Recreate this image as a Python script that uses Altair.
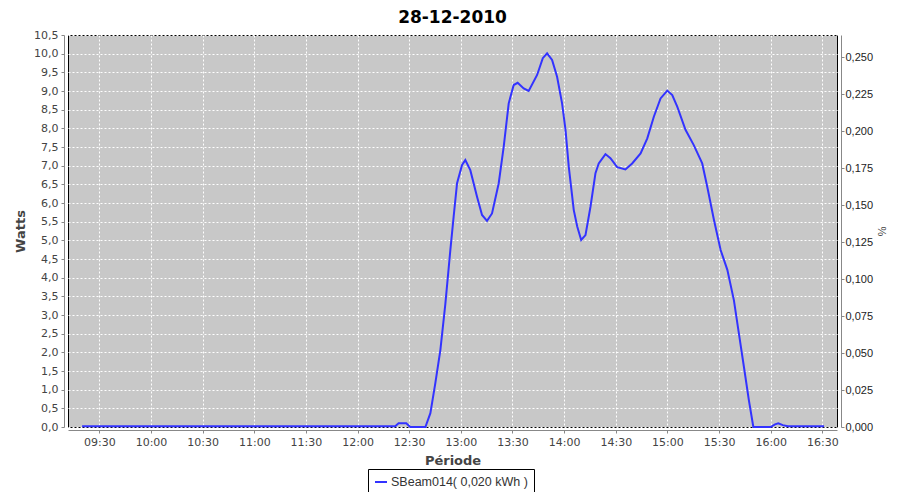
import altair as alt
import pandas as pd

chart_title = "28-12-2010"
series_name = "SBeam014( 0,020 kWh )"
y_title = "Watts"
x_title = "Période"
y2_title = "%"

times = [
    "09:20:00", "12:21:54", "12:23:50", "12:28:18", "12:30:36", "12:39:24",
    "12:42:18", "12:45:12", "12:48:06", "12:51:00", "12:53:54", "12:55:48",
    "12:57:48", "13:00:42", "13:02:36", "13:05:30", "13:09:24", "13:12:18",
    "13:15:12", "13:18:06", "13:22:00", "13:24:54", "13:27:48", "13:30:42",
    "13:33:00", "13:36:30", "13:39:24", "13:44:18", "13:47:36", "13:50:06",
    "13:53:00", "13:55:54", "13:58:48", "14:00:48", "14:02:42", "14:05:36",
    "14:07:36", "14:09:54", "14:12:24", "14:15:18", "14:18:12", "14:20:06",
    "14:24:00", "14:26:54", "14:30:48", "14:35:36", "14:39:30", "14:44:24",
    "14:48:18", "14:52:06", "14:56:00", "14:59:54", "15:02:48", "15:05:42",
    "15:10:30", "15:15:18", "15:20:12", "15:23:06", "15:27:00", "15:30:54",
    "15:34:48", "15:38:36", "15:41:30", "15:44:24", "15:47:18", "15:49:54",
    "15:59:54", "16:02:30", "16:04:24", "16:07:00", "16:10:00", "16:12:36",
    "16:31:00",
]
watts = [
    0.02, 0.02, 0.10, 0.10, 0.0, 0.0,
    0.37, 1.18, 2.06, 3.30, 4.74, 5.63,
    6.53, 7.02, 7.15, 6.88, 6.17, 5.68,
    5.52, 5.72, 6.53, 7.51, 8.67, 9.16,
    9.22, 9.07, 9.00, 9.43, 9.88, 10.01,
    9.83, 9.38, 8.67, 7.96, 6.97, 5.81,
    5.37, 5.01, 5.14, 5.90, 6.80, 7.06,
    7.31, 7.20, 6.96, 6.90, 7.06, 7.33,
    7.73, 8.31, 8.80, 9.01, 8.89, 8.58,
    7.96, 7.55, 7.06, 6.44, 5.55, 4.74,
    4.21, 3.40, 2.51, 1.62, 0.72, 0.0,
    0.0, 0.07, 0.10, 0.05, 0.02, 0.02,
    0.02,
]

x_ticks = ["09:30", "10:00", "10:30", "11:00", "11:30", "12:00", "12:30",
           "13:00", "13:30", "14:00", "14:30", "15:00", "15:30", "16:00", "16:30"]
x_domain = ["09:11:48", "16:38:30"]
y_ticks = [0.0, 0.5, 1.0, 1.5, 2.0, 2.5, 3.0, 3.5, 4.0, 4.5, 5.0, 5.5, 6.0,
           6.5, 7.0, 7.5, 8.0, 8.5, 9.0, 9.5, 10.0, 10.5]
y_domain = [0, 10.5]
pct_ticks = [0.0, 0.025, 0.05, 0.075, 0.1, 0.125, 0.15, 0.175, 0.2, 0.225, 0.25]
pct_domain = [0, 0.2652]


def to_min(s):
    parts = [float(p) for p in s.split(":")]
    while len(parts) < 3:
        parts.append(0.0)
    return parts[0] * 60 + parts[1] + parts[2] / 60


df = pd.DataFrame({"t": [to_min(s) for s in times], "W": watts, "series": series_name})
df_pct = pd.DataFrame({"t": [to_min(x_domain[0]), to_min(x_domain[1])], "pct": [0.0, 0.1]})

x_vals = [to_min(s) for s in x_ticks]
x_dom = [to_min(s) for s in x_domain]

time_label = ("(floor(datum.value/60)<10?'0':'') + floor(datum.value/60) + ':' + "
              "(round(datum.value%60)<10?'0':'') + round(datum.value%60)")

x_enc = alt.X(
    "t:Q",
    scale=alt.Scale(domain=x_dom, nice=False, zero=False),
    axis=alt.Axis(
        values=x_vals, labelExpr=time_label, title=x_title,
        grid=True, gridColor="white", gridDash=[2, 2], gridWidth=1, gridOpacity=1,
        domainColor="#888888", tickColor="#888888", tickSize=3, offset=3,
        labelFont="DejaVu Sans", labelFontSize=11, labelColor="#444444", labelPadding=3,
        titleFont="DejaVu Sans", titleFontSize=13, titleFontWeight="bold",
        titleColor="#444444", titlePadding=7,
    ),
)

line = alt.Chart(df).mark_line(strokeWidth=2, interpolate="linear").encode(
    x=x_enc,
    y=alt.Y(
        "W:Q",
        scale=alt.Scale(domain=y_domain, nice=False),
        axis=alt.Axis(
            values=y_ticks, labelExpr="replace(format(datum.value, '.1f'), '.', ',')",
            title=y_title, grid=True, gridColor="white", gridDash=[2, 2], gridWidth=1,
            gridOpacity=1, domainColor="#888888", tickColor="#888888", tickSize=3,
            offset=4, labelFont="DejaVu Sans", labelFontSize=11, labelColor="#444444",
            labelPadding=3, titleFont="DejaVu Sans", titleFontSize=13,
            titleFontWeight="bold", titleColor="#444444", titlePadding=6,
        ),
    ),
    color=alt.Color(
        "series:N",
        scale=alt.Scale(range=["#3333ff"]),
        legend=alt.Legend(
            title=None, orient="none", legendX=300, legendY=434,
            symbolType="stroke", symbolSize=144, symbolStrokeWidth=2,
            labelFont="Liberation Sans", labelFontSize=12.5, labelColor="#333333",
            labelLimit=400, labelOffset=3, padding=6, strokeColor="black",
            fillColor="white", cornerRadius=0,
        ),
    ),
)

right = alt.Chart(df_pct).mark_point(opacity=0).encode(
    x=alt.X("t:Q", scale=alt.Scale(domain=x_dom, nice=False, zero=False)),
    y=alt.Y(
        "pct:Q",
        scale=alt.Scale(domain=pct_domain, nice=False),
        axis=alt.Axis(
            orient="right", values=pct_ticks,
            labelExpr="replace(format(datum.value, '.3f'), '.', ',')",
            title=y2_title, grid=False, domainColor="#888888", tickColor="#888888",
            tickSize=3, offset=4, labelFont="Liberation Sans", labelFontSize=11,
            labelColor="#222222", labelPadding=1, titleFont="Liberation Sans",
            titleFontSize=11, titleFontWeight="normal", titleColor="#444444",
            titlePadding=3,
        ),
    ),
)

chart = (
    alt.layer(line, right)
    .resolve_scale(y="independent")
    .properties(
        width=769, height=392,
        autosize=alt.AutoSizeParams(type="none"),
        padding={"left": 60, "top": 27, "right": 55, "bottom": 65},
        background="white",
        title=alt.TitleParams(
            chart_title, font="DejaVu Sans", fontSize=17, fontWeight="bold",
            color="black", offset=2, anchor="middle",
        ),
    )
    .configure_view(fill="#c8c8c8", stroke="black", strokeWidth=1)
)

chart.save("out.html", embed_options={"renderer": "svg", "actions": False})
